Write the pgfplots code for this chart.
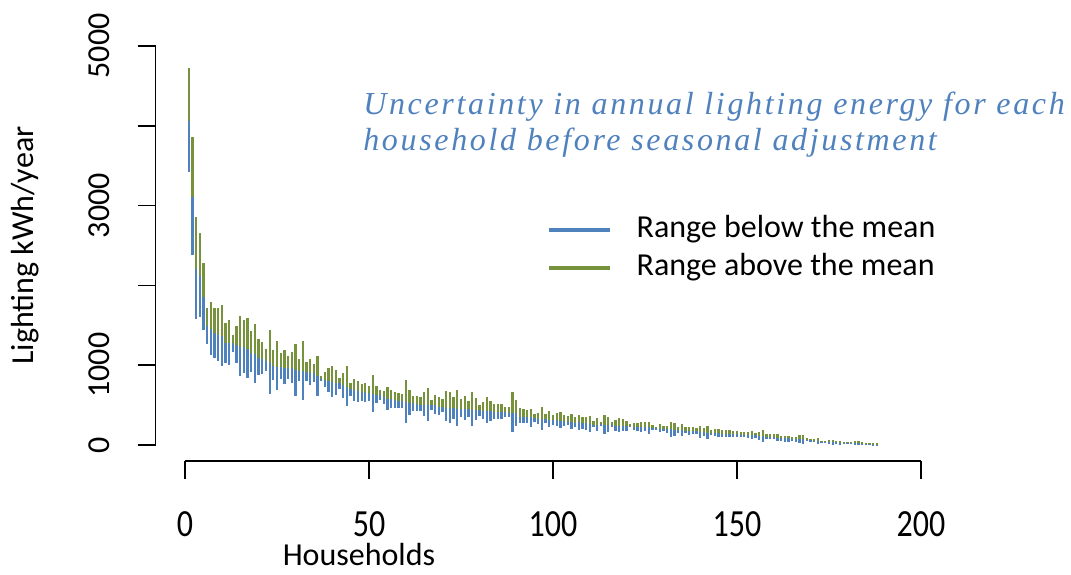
\documentclass[border=0pt]{standalone}
\usepackage{fontspec}
\setmainfont{Carlito}
\newfontfamily\titlefont[LetterSpace=8.3]{Liberation Serif}
\usepackage{pgfplots}
\usepackage{pgfplotstable}
\pgfplotsset{compat=1.18}
\definecolor{cblue}{HTML}{4F81BD}
\definecolor{cgreen}{HTML}{76923C}

% annual lighting energy per household: lower bound, mean, upper bound (kWh/year)
\pgfplotstableread{
x lo mean hi
1 3417 4060 4720
2 2381 3104 3856
3 1583 2210 2861
4 1600 2122 2653
5 1437 1855 2281
6 1270 1491 1717
7 1132 1458 1792
8 1090 1400 1717
9 1057 1383 1721
10 994 1370 1750
11 1031 1278 1533
12 998 1278 1566
13 1165 1274 1383
14 1031 1249 1491
15 861 1232 1620
16 898 1228 1566
17 843 1203 1587
18 911 1153 1425
19 781 1140 1520
20 881 1094 1324
21 894 1078 1295
22 923 1057 1203
23 635 1031 1445
24 815 994 1187
25 689 981 1299
26 831 981 1149
27 761 969 1190
28 827 969 1115
29 773 961 1165
30 618 940 1262
31 806 927 1078
32 564 927 1303
33 806 919 1036
34 752 902 1074
35 789 898 1019
36 614 865 1111
37 806 831 860
38 727 815 915
39 660 802 961
40 606 789 994
41 627 777 936
42 706 773 840
43 593 748 898
44 489 731 990
45 618 698 781
46 547 685 831
47 543 673 802
48 556 660 760
49 535 652 777
50 556 647 739
51 409 635 877
52 530 627 744
53 568 627 689
54 518 597 681
55 434 576 723
56 464 572 693
57 468 564 668
58 459 556 652
59 468 547 635
60 276 535 810
61 376 530 689
62 426 522 618
63 426 514 614
64 426 501 597
65 359 497 664
66 305 497 710
67 443 501 564
68 393 497 622
69 380 480 597
70 409 480 572
71 297 468 681
72 280 459 668
73 330 459 601
74 242 455 693
75 355 451 576
76 317 451 610
77 351 447 556
78 238 443 668
79 309 439 593
80 368 434 505
81 330 430 543
82 272 426 597
83 305 422 547
84 322 418 518
85 322 418 514
86 322 414 510
87 355 409 480
88 347 401 476
89 167 401 660
90 242 397 564
91 276 351 468
92 280 351 451
93 280 351 434
94 221 347 455
95 288 338 388
96 267 330 397
97 192 326 472
98 272 322 388
99 221 317 422
100 255 313 380
101 234 309 397
102 213 305 414
103 234 297 372
104 246 292 359
105 200 284 388
106 221 280 351
107 188 284 372
108 205 272 347
109 188 272 351
110 167 267 359
111 221 251 297
112 180 246 338
113 238 259 288
114 138 255 380
115 167 255 347
116 221 251 288
117 180 238 313
118 163 238 334
119 180 238 322
120 180 238 305
121 221 238 263
122 184 230 280
123 180 230 272
124 167 226 288
125 171 226 288
126 138 221 292
127 184 213 246
128 188 213 230
129 159 205 259
130 175 205 238
131 155 200 242
132 100 196 288
133 117 188 272
134 155 188 226
135 109 188 263
136 146 180 221
137 125 180 230
138 138 180 230
139 134 175 213
140 84 167 242
141 113 163 217
142 79 155 238
143 121 155 188
144 109 150 196
145 104 146 196
146 100 142 192
147 100 142 188
148 96 138 184
149 100 134 171
150 100 134 171
151 104 129 159
152 96 125 159
153 84 125 163
154 75 121 175
155 92 121 155
156 63 113 167
157 42 113 188
158 79 104 142
159 79 104 142
160 75 104 138
161 54 92 134
162 46 84 117
163 38 84 117
164 33 84 117
165 50 75 104
166 38 75 104
167 29 75 121
168 13 75 121
169 50 67 84
170 42 58 75
171 33 54 79
172 13 54 84
173 21 38 54
174 21 38 54
175 17 38 58
176 4 33 58
177 17 33 50
178 4 29 50
179 13 25 38
180 13 25 38
181 8 25 42
182 0 25 46
183 0 21 46
184 0 17 33
185 0 13 29
186 0 8 25
187 0 4 21
188 0 4 25
}\households

\begin{document}
\begin{tikzpicture}
\begin{axis}[
  at={(0,0)}, anchor=south west,
  scale only axis, width=397.4pt, height=215.5pt,
  xmin=-8, xmax=208, ymin=-200, ymax=5200,
  clip=false,
  axis x line*=bottom, axis y line*=left,
  axis line style={draw=none},
  tick align=outside, major tick length=9pt,
  tick style={black, line width=0.8pt},
  xtick={0,50,100,150,200},
  ytick={0,1000,2000,3000,4000,5000},
  yticklabels={0,1000,,3000,,5000},
  /pgf/number format/assume math mode=true,
  /pgf/number format/1000 sep={},
  xticklabel style={font=\fontsize{16}{19}\selectfont, anchor=base, inner sep=0pt, yscale=1.2},
  xticklabel shift=28.5pt,
  yticklabel style={font=\fontsize{16}{19}\selectfont, rotate=90, anchor=base, inner sep=0pt},
  yticklabel shift=13.8pt,
  xlabel={Households},
  ylabel={Lighting kWh/year},
  every axis x label/.style={at={(rel axis cs:0.2559,-0.2436)}, anchor=base, inner sep=0pt, font=\fontsize{16}{19}\selectfont},
  every axis y label/.style={at={(rel axis cs:-0.1643,0.5)}, rotate=90, anchor=center, font=\fontsize{16}{19}\selectfont},
  legend image code/.code={\draw[#1] (0pt,0pt) -- (30.5pt,0pt);},
  legend cell align=left,
  legend style={at={(rel axis cs:0.4925,0.5715)}, anchor=north west, draw=none, fill=none,
    inner sep=0pt, row sep=4pt,
    font=\fontsize{16}{19}\selectfont,
    nodes={inner sep=0pt, text height=11pt, text depth=4pt},
    /tikz/every odd column/.append style={column sep=12.5pt}},
]
% lower part of each range: from the lower bound up to the mean
\addplot[forget plot, draw=none, mark=none,
  error bars/.cd, y dir=minus, y explicit, error mark=none,
  error bar style={draw=cblue, line width=1.15pt}]
  table[x=x, y=mean, y error minus expr=\thisrow{mean}-\thisrow{lo}] {\households};
% upper part of each range: from the mean up to the upper bound
\addplot[forget plot, draw=none, mark=none,
  error bars/.cd, y dir=plus, y explicit, error mark=none,
  error bar style={draw=cgreen, line width=1.15pt}]
  table[x=x, y=mean, y error plus expr=\thisrow{hi}-\thisrow{mean}] {\households};

\addlegendimage{cblue, line width=1.6pt}
\addlegendentry{Range below the mean}
\addlegendimage{cgreen, line width=1.6pt}
\addlegendentry{Range above the mean}

% detached axis lines
\draw[line width=0.8pt] (axis cs:0,-200) -- (axis cs:200,-200);
\draw[line width=0.8pt] (axis cs:-8,0) -- (axis cs:-8,5000);

% heading
\node[anchor=base west, inner sep=0pt, text=cblue, font=\fontsize{16}{19}\titlefont\itshape]
  at (rel axis cs:0.2609,0.8051) {Uncertainty in annual lighting energy for each};
\node[anchor=base west, inner sep=0pt, text=cblue, font=\fontsize{16}{19}\titlefont\itshape]
  at (rel axis cs:0.2609,0.7193) {household before seasonal adjustment};
\end{axis}
\pgfresetboundingbox
\path[use as bounding box] (-77.8pt,-56.5pt) rectangle (457.7pt,230.5pt);
\end{tikzpicture}
\end{document}
